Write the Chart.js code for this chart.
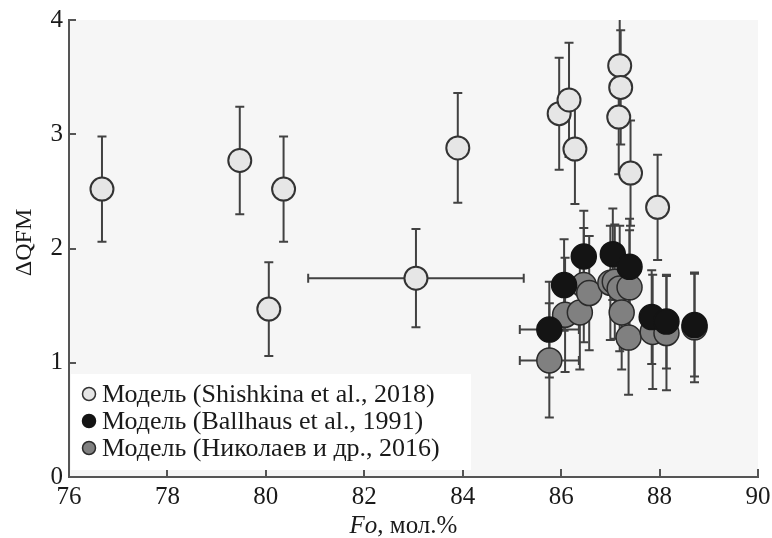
<!DOCTYPE html>
<html>
<head>
<meta charset="utf-8">
<script src="https://cdn.jsdelivr.net/npm/chart.js@4/dist/chart.umd.min.js"></script>
<style>
  html, body { margin: 0; padding: 0; background: #ffffff; }
  #wrap { width: 772px; height: 538px; }
</style>
</head>
<body>
<div id="wrap"><canvas id="c" width="772" height="538"></canvas></div>
<script>
// Olivine forsterite content (Fo, mol.%) vs. ΔQFM for three oxybarometer models.

// Shishkina et al., 2018
const shishFo   = [76.67, 79.47, 80.36, 80.06, 83.05, 83.90, 85.96, 86.16, 86.28, 87.19, 87.21, 87.17, 87.41, 87.96];
const shishQFM  = [2.52, 2.77, 2.52, 1.47, 1.74, 2.88, 3.18, 3.30, 2.87, 3.60, 3.41, 3.15, 2.66, 2.36];
const shishErrY = [0.46, 0.47, 0.46, 0.41, 0.43, 0.48, 0.49, 0.50, 0.48, 0.50, 0.50, 0.50, 0.46, 0.46];
const shishErrX = [0, 0, 0, 0, 2.19, 0, 0, 0, 0, 0, 0, 0, 0, 0];

// Ballhaus et al., 1991
const ballFo   = [85.76, 86.06, 86.46, 87.05, 87.39, 87.84, 88.14, 88.71];
const ballQFM  = [1.29, 1.68, 1.93, 1.95, 1.84, 1.40, 1.36, 1.33];
const ballErrY = [0.42, 0.40, 0.40, 0.40, 0.42, 0.41, 0.41, 0.45];
const ballErrX = [0.60, 0, 0, 0, 0, 0, 0, 0];

// Николаев и др., 2016
const nikFo   = [85.76, 86.08, 86.38, 86.46, 86.57, 87.00, 87.09, 87.19, 87.39, 87.23, 87.37, 87.86, 88.14, 88.71];
const nikQFM  = [1.02, 1.42, 1.44, 1.68, 1.61, 1.70, 1.71, 1.65, 1.66, 1.44, 1.22, 1.27, 1.26, 1.31];
const nikErrY = [0.50, 0.50, 0.50, 0.50, 0.50, 0.50, 0.50, 0.55, 0.50, 0.50, 0.50, 0.50, 0.50, 0.48];
const nikErrX = [0.60, 0, 0, 0, 0, 0, 0, 0, 0, 0, 0, 0, 0, 0];

const seriesLabels = [
  'Модель (Shishkina et al., 2018)',
  'Модель (Ballhaus et al., 1991)',
  'Модель (Николаев и др., 2016)'
];
const xTitleItalic = 'Fo';
const xTitleRest = ', мол.%';
const yTitle = 'ΔQFM';

const SERIF = "'Liberation Serif', 'DejaVu Serif', serif";

function points(xs, ys) { return xs.map((x, i) => ({ x: x, y: ys[i] })); }

// Plot background, error bars, inward ticks, legend and axis titles
const framePlugin = {
  id: 'frame',
  beforeDraw(chart) {
    const { ctx, chartArea: a } = chart;
    ctx.save();
    ctx.fillStyle = '#f6f6f6';
    ctx.fillRect(a.left, a.top, a.right - a.left, a.bottom - a.top);
    ctx.restore();
  },
  beforeDatasetsDraw(chart) {
    const { ctx, chartArea: a, scales } = chart;
    const xs = scales.x, ys = scales.y;
    ctx.save();
    // inward tick marks
    ctx.strokeStyle = '#555555';
    ctx.lineWidth = 2;
    xs.ticks.forEach(t => {
      const px = Math.round(xs.getPixelForValue(t.value));
      ctx.beginPath(); ctx.moveTo(px, a.bottom); ctx.lineTo(px, a.bottom - 8); ctx.stroke();
    });
    ys.ticks.forEach(t => {
      const py = Math.round(ys.getPixelForValue(t.value));
      ctx.beginPath(); ctx.moveTo(a.left, py); ctx.lineTo(a.left + 7, py); ctx.stroke();
    });
    // error bars
    ctx.beginPath();
    ctx.rect(a.left, a.top, a.right - a.left, a.bottom - a.top);
    ctx.clip();
    ctx.strokeStyle = '#424242';
    ctx.lineWidth = 2;
    const cap = 4.5;
    chart.data.datasets.forEach(ds => {
      ds.data.forEach((p, i) => {
        const cx = xs.getPixelForValue(p.x);
        const cy = ys.getPixelForValue(p.y);
        const ey = ds.errY ? ds.errY[i] : 0;
        const ex = ds.errX ? ds.errX[i] : 0;
        if (ey > 0) {
          const t = ys.getPixelForValue(p.y + ey);
          const b = ys.getPixelForValue(p.y - ey);
          ctx.beginPath();
          ctx.moveTo(cx, t); ctx.lineTo(cx, b);
          ctx.moveTo(cx - cap, t); ctx.lineTo(cx + cap, t);
          ctx.moveTo(cx - cap, b); ctx.lineTo(cx + cap, b);
          ctx.stroke();
        }
        if (ex > 0) {
          const l = xs.getPixelForValue(p.x - ex);
          const r = xs.getPixelForValue(p.x + ex);
          ctx.beginPath();
          ctx.moveTo(l, cy); ctx.lineTo(r, cy);
          ctx.moveTo(l, cy - cap); ctx.lineTo(l, cy + cap);
          ctx.moveTo(r, cy - cap); ctx.lineTo(r, cy + cap);
          ctx.stroke();
        }
      });
    });
    ctx.restore();
  },
  afterDatasetsDraw(chart) {
    // legend box in the lower-left corner of the plot
    const { ctx, chartArea: a } = chart;
    ctx.save();
    ctx.fillStyle = '#ffffff';
    ctx.fillRect(a.left + 2, 374, 400, 96);
    ctx.font = '26px ' + SERIF;
    ctx.textBaseline = 'middle';
    ctx.textAlign = 'left';
    chart.data.datasets.forEach((ds, i) => {
      const y = 394 + i * 27;
      ctx.beginPath();
      ctx.arc(a.left + 20, y, 6.5, 0, Math.PI * 2);
      ctx.fillStyle = ds.backgroundColor;
      ctx.fill();
      ctx.lineWidth = 1.5;
      ctx.strokeStyle = ds.borderColor;
      ctx.stroke();
      ctx.fillStyle = '#1a1a1a';
      ctx.fillText(ds.label, a.left + 33, y + 1);
    });
    ctx.restore();
  },
  afterDraw(chart) {
    const { ctx, chartArea: a } = chart;
    ctx.save();
    ctx.fillStyle = '#1a1a1a';
    ctx.textBaseline = 'middle';
    // x title with italic "Fo"
    const fIt = 'italic 25px ' + SERIF;
    const fRm = '25px ' + SERIF;
    ctx.font = fIt; const w1 = ctx.measureText(xTitleItalic).width;
    ctx.font = fRm; const w2 = ctx.measureText(xTitleRest).width;
    const x0 = (a.left + a.right) / 2 - 10 - (w1 + w2) / 2;
    const ty = 526;
    ctx.textAlign = 'left';
    ctx.font = fIt; ctx.fillText(xTitleItalic, x0, ty);
    ctx.font = fRm; ctx.fillText(xTitleRest, x0 + w1, ty);
    // y title, rotated
    ctx.translate(25, (a.top + a.bottom) / 2 - 6);
    ctx.rotate(-Math.PI / 2);
    ctx.textAlign = 'center';
    ctx.font = '24px ' + SERIF;
    ctx.fillText(yTitle, 0, 0);
    ctx.restore();
  }
};

new Chart(document.getElementById('c'), {
  type: 'scatter',
  data: {
    datasets: [
      {
        label: seriesLabels[0],
        data: points(shishFo, shishQFM),
        errY: shishErrY, errX: shishErrX,
        backgroundColor: '#e6e6e6', borderColor: '#333333',
        borderWidth: 2, pointRadius: 11.5, pointHoverRadius: 11.5
      },
      {
        label: seriesLabels[1],
        data: points(ballFo, ballQFM),
        errY: ballErrY, errX: ballErrX,
        backgroundColor: '#141414', borderColor: '#141414',
        borderWidth: 1.5, pointRadius: 12.5, pointHoverRadius: 12.5
      },
      {
        label: seriesLabels[2],
        data: points(nikFo, nikQFM),
        errY: nikErrY, errX: nikErrX,
        backgroundColor: '#808080', borderColor: '#2a2a2a',
        borderWidth: 1.5, pointRadius: 12.5, pointHoverRadius: 12.5
      }
    ]
  },
  options: {
    responsive: false,
    animation: false,
    events: [],
    layout: { padding: { top: 20, right: 10, left: 0, bottom: 0 } },
    plugins: { legend: { display: false }, tooltip: { enabled: false } },
    scales: {
      x: {
        type: 'linear', min: 76, max: 90,
        grid: { display: true, drawOnChartArea: false, drawTicks: false },
        border: { display: true, color: '#555555', width: 2 },
        ticks: { stepSize: 2, padding: 5, color: '#1a1a1a', font: { family: SERIF, size: 25 } },
        afterFit(s) { s.height = 61; s.paddingLeft = 0; s.paddingRight = 0; }
      },
      y: {
        type: 'linear', min: 0, max: 4,
        grid: { display: true, drawOnChartArea: false, drawTicks: false },
        border: { display: true, color: '#555555', width: 2 },
        ticks: { stepSize: 1, padding: 6, color: '#1a1a1a', font: { family: SERIF, size: 25 } },
        afterFit(s) { s.width = 69; s.paddingTop = 0; s.paddingBottom = 0; }
      }
    }
  },
  plugins: [framePlugin]
});
</script>
</body>
</html>
